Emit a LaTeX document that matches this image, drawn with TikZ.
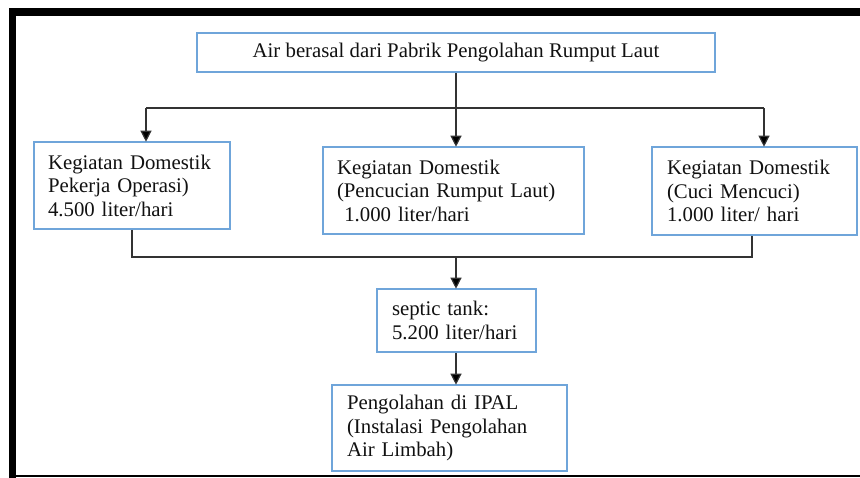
\documentclass[tikz,border=0pt]{standalone}
\usepackage{fontspec}
\setmainfont{Liberation Serif}
\usetikzlibrary{arrows.meta,calc}
\definecolor{boxblue}{HTML}{6FA5DA}
\definecolor{linegray}{HTML}{333333}
\definecolor{txt}{HTML}{111111}
\tikzset{
  box/.style={draw=boxblue, line width=1.6pt, fill=white, text=txt, align=left,
    inner xsep=0pt, inner ysep=0pt, font=\fontsize{20.8}{23.5}\selectfont},
  conn/.style={draw=linegray, line width=1.2pt},
  arr/.style={conn, -{Triangle[length=11pt,width=11pt,fill=black]}, shorten >=-0.5pt},
}
\begin{document}
\begin{tikzpicture}[x=1pt,y=-1pt]
\useasboundingbox (0,0) rectangle (860,477);
\fill[white] (0,0) rectangle (860,477);
\begin{scope}
\clip (0,0) rectangle (860,477);
% frame
\draw[line width=7.5pt] (12.5,490) -- (12.5,12) -- (880,12);
\draw[line width=2.2pt] (12.5,476) -- (880,476);
\end{scope}
% boxes
\node[box, minimum width=518pt, minimum height=39pt, align=center] (top) at (456,52.5)
  {Air berasal dari Pabrik Pengolahan Rumput Laut};
\node[box, minimum width=196pt, minimum height=87pt, text width=168pt] (L) at (132,185.5)
  {Kegiatan Domestik\\Pekerja Operasi)\\4.500 liter/hari};
\node[box, minimum width=261pt, minimum height=87pt, text width=233pt] (M) at (453.5,190.5)
  {Kegiatan Domestik\\(Pencucian Rumput Laut)\\\hspace*{0.35em}1.000 liter/hari};
\node[box, minimum width=205pt, minimum height=88pt, text width=175pt] (R) at (754.5,191)
  {Kegiatan Domestik\\(Cuci Mencuci)\\1.000 liter/ hari};
\node[box, minimum width=159pt, minimum height=63pt, text width=129pt] (S) at (456.5,320.5)
  {septic tank:\\5.200 liter/hari};
\node[box, minimum width=235pt, minimum height=86pt, text width=205pt] (I) at (449.5,428)
  {Pengolahan di IPAL\\(Instalasi Pengolahan\\Air Limbah)};
% junction coordinates
\coordinate (jL) at (146,108);
\coordinate (jR) at (764,108);
\coordinate (jB) at (456,257);
% connectors
\draw[arr] (top.south) -- (top.south |- M.north);
\draw[conn] (jL) -- (jR);
\draw[arr] (jL) -- (jL |- L.north);
\draw[arr] (jR) -- (jR |- R.north);
\draw[conn] (L.south) |- (jB);
\draw[conn] (jB) -| ($(R.south)+(-2.5,0)$);
\draw[arr] (jB) -- (jB |- S.north);
\draw[arr] (S.south -| jB) -- (jB |- I.north);
\end{tikzpicture}
\end{document}
